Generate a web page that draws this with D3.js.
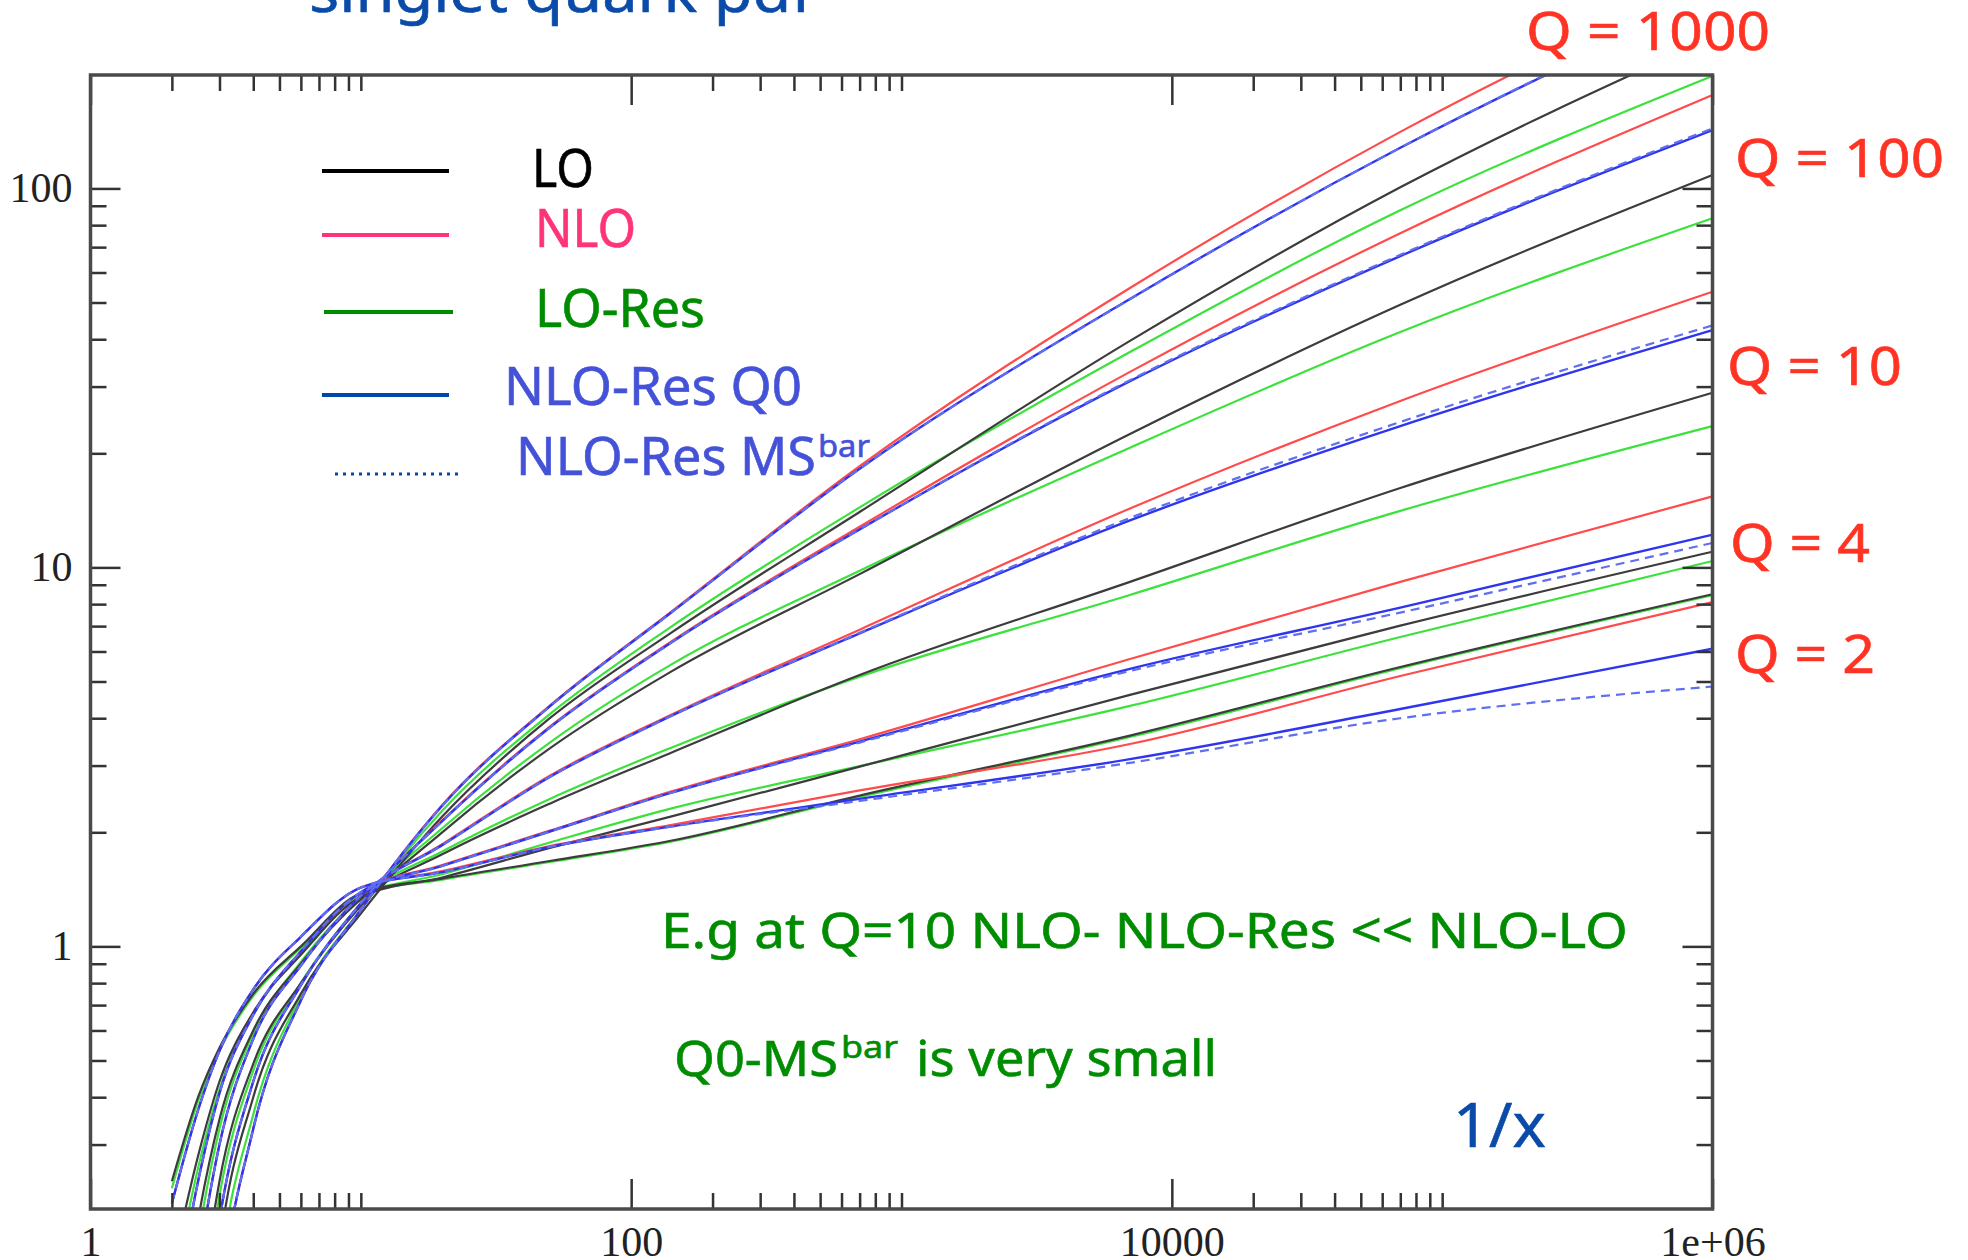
<!DOCTYPE html>
<html>
<head>
<meta charset="utf-8">
<script src="https://cdn.jsdelivr.net/npm/d3@7.9.0/dist/d3.min.js"></script>
<style>
  html, body { margin: 0; padding: 0; background: #fff; }
  svg { display: block; }
  .axis text { font-family: "Liberation Serif", "DejaVu Serif", serif; font-size: 42px; fill: #222; }
  .axis line { stroke: #333; stroke-width: 2.5; }
  .note { font-family: "Noto Sans", "Open Sans", sans-serif; paint-order: stroke; stroke-width: 0.6; }
</style>
</head>
<body>
<div id="chart"></div>
<script>
// 1/x sample points (same for every curve)
const xPoints = [2, 2.5, 3, 4, 6, 10, 20, 50, 140, 700, 7000, 70000, 1000000];
// one row per Q value
const qValues = [2, 4, 10, 100, 1000];

const loValues = [
  [0.24, 0.40, 0.54, 0.75, 1.0, 1.38, 1.51, 1.68, 1.90, 2.50, 3.60, 5.46, 8.5],
  [0.14, 0.28, 0.44, 0.67, 0.95, 1.35, 1.52, 1.82, 2.20, 2.98, 4.61, 7.02, 11.0],
  [0.065, 0.19, 0.35, 0.60, 0.90, 1.33, 1.75, 2.38, 3.24, 5.2, 9.16, 16.2, 28.9],
  [0.022, 0.10, 0.24, 0.49, 0.80, 1.28, 2.0, 3.33, 5.30, 9.6, 22.5, 49.3, 108.5],
  [0.008, 0.045, 0.16, 0.40, 0.75, 1.22, 2.2, 4.0, 6.71, 14.0, 39.6, 100.7, 250]
];
const nloValues = [
  [0.21, 0.37, 0.53, 0.77, 1.06, 1.43, 1.58, 1.84, 2.09, 2.58, 3.42, 5.17, 8.1],
  [0.10, 0.24, 0.41, 0.66, 0.97, 1.39, 1.64, 2.02, 2.56, 3.52, 5.73, 9.16, 15.4],
  [0.045, 0.145, 0.30, 0.57, 0.89, 1.36, 1.86, 2.82, 4.08, 6.85, 14.3, 27.5, 53.4],
  [0.013, 0.07, 0.19, 0.44, 0.79, 1.30, 2.15, 3.8, 6.36, 12.8, 32.8, 76.2, 176.5],
  [0.004, 0.025, 0.11, 0.33, 0.72, 1.25, 2.36, 4.32, 7.62, 18.5, 54.6, 141, 360]
];
const loResValues = [
  [0.23, 0.39, 0.53, 0.74, 0.99, 1.37, 1.50, 1.67, 1.89, 2.48, 3.57, 5.42, 8.45],
  [0.12, 0.26, 0.42, 0.66, 0.96, 1.36, 1.55, 1.88, 2.31, 2.99, 4.31, 6.55, 10.4],
  [0.055, 0.17, 0.33, 0.59, 0.91, 1.35, 1.78, 2.45, 3.34, 5.15, 8.46, 14.1, 23.6],
  [0.018, 0.088, 0.22, 0.47, 0.80, 1.30, 2.05, 3.45, 5.53, 9.8, 20.7, 41.8, 83.4],
  [0.006, 0.035, 0.135, 0.36, 0.74, 1.25, 2.28, 4.1, 6.96, 14.4, 37.0, 87.6, 198]
];
const nloResQ0Values = [
  [0.21, 0.37, 0.53, 0.77, 1.06, 1.43, 1.57, 1.83, 2.07, 2.45, 3.12, 4.23, 6.1],
  [0.10, 0.24, 0.41, 0.66, 0.97, 1.39, 1.63, 2.01, 2.54, 3.47, 5.40, 7.83, 12.2],
  [0.045, 0.145, 0.30, 0.57, 0.89, 1.36, 1.85, 2.8, 4.05, 6.7, 13.3, 23.6, 42.3],
  [0.013, 0.07, 0.19, 0.44, 0.79, 1.30, 2.14, 3.78, 6.32, 12.6, 31.0, 66.3, 142.6],
  [0.004, 0.025, 0.11, 0.33, 0.72, 1.25, 2.35, 4.3, 7.58, 18.2, 51.1, 128, 320]
];
const nloResMsValues = [
  [0.21, 0.37, 0.53, 0.77, 1.06, 1.43, 1.57, 1.83, 2.07, 2.42, 3.05, 4.0, 4.85],
  [0.10, 0.24, 0.41, 0.66, 0.97, 1.39, 1.63, 2.01, 2.54, 3.45, 5.33, 7.6, 11.6],
  [0.045, 0.145, 0.30, 0.57, 0.89, 1.36, 1.85, 2.8, 4.05, 6.72, 13.5, 24.2, 43.5],
  [0.013, 0.07, 0.19, 0.44, 0.79, 1.30, 2.14, 3.78, 6.32, 12.6, 31.2, 66.8, 144],
  [0.004, 0.025, 0.11, 0.33, 0.72, 1.25, 2.35, 4.3, 7.58, 18.2, 51.0, 128, 322]
];

const xMajorTicks = [1, 100, 10000, 1000000];
const xMinorTicks = [2, 3, 4, 5, 6, 7, 8, 9, 10, 200, 300, 400, 500, 600, 700, 800, 900, 1000,
  20000, 30000, 40000, 50000, 60000, 70000, 80000, 90000, 100000];
const yMajorTicks = [1, 10, 100];
const yMinorTicks = [0.3, 0.4, 0.5, 0.6, 0.7, 0.8, 0.9, 2, 3, 4, 5, 6, 7, 8, 9,
  20, 30, 40, 50, 60, 70, 80, 90];

const legendLabels = ["LO", "NLO", "LO-Res", "NLO-Res  Q0", "NLO-Res MS"];
const qLabels = ["Q = 2", "Q = 4", "Q = 10", "Q = 100", "Q = 1000"];

const width = 1968;
const height = 1260;
const plot = { left: 90.5, right: 1712.5, top: 75, bottom: 1209 };

const svg = d3.select('#chart')
  .append('svg')
  .attr('width', width)
  .attr('height', height)
  .attr('viewBox', `0 0 ${width} ${height}`);

const xScale = d3.scaleLog()
  .domain([1, 1e6])
  .range([plot.left, plot.right]);

const yScale = d3.scaleLog()
  .domain([0.2028, 199.2])
  .range([plot.bottom, plot.top]);

// clip for curves
svg.append('defs').append('clipPath')
  .attr('id', 'plot-clip')
  .append('rect')
  .attr('x', plot.left)
  .attr('y', plot.top)
  .attr('width', plot.right - plot.left)
  .attr('height', plot.bottom - plot.top);

function drawCurves() {
  const series = [
    { values: loResValues, color: '#3be23b', width: 2.2 },
    { values: loValues, color: '#3c3c3c', width: 2.2 },
    { values: nloValues, color: '#ff4b4b', width: 2.2 },
    { values: nloResQ0Values, color: '#2f35ee', width: 2.4 },
    { values: nloResMsValues, color: '#5f6ff0', width: 2.2, dash: '9 6' }
  ];

  const line = d3.line()
    .x(d => xScale(d[0]))
    .y(d => yScale(d[1]))
    .curve(d3.curveMonotoneX);

  const g = svg.append('g').attr('clip-path', 'url(#plot-clip)');

  series.forEach(s => {
    s.values.forEach((row, i) => {
      const pts = xPoints.map((xv, j) => [xv, row[j]]);
      g.append('path')
        .datum(pts)
        .attr('d', line)
        .attr('fill', 'none')
        .attr('stroke', s.color)
        .attr('stroke-width', s.width)
        .attr('stroke-dasharray', s.dash || null)
        .attr('class', 'q' + qValues[i]);
    });
  });
}

function drawAxes() {
  const fmtX = d => (d === 1000000 ? '1e+06' : String(d));

  // bottom
  svg.append('g')
    .attr('class', 'axis')
    .attr('transform', `translate(0, ${plot.bottom})`)
    .call(d3.axisBottom(xScale).tickValues(xMajorTicks).tickFormat(fmtX)
      .tickSizeInner(-30).tickSizeOuter(0).tickPadding(17));
  svg.append('g')
    .attr('class', 'axis')
    .attr('transform', `translate(0, ${plot.bottom})`)
    .call(d3.axisBottom(xScale).tickValues(xMinorTicks).tickFormat('')
      .tickSizeInner(-16).tickSizeOuter(0));

  // top
  svg.append('g')
    .attr('class', 'axis')
    .attr('transform', `translate(0, ${plot.top})`)
    .call(d3.axisTop(xScale).tickValues(xMajorTicks).tickFormat('')
      .tickSizeInner(-30).tickSizeOuter(0));
  svg.append('g')
    .attr('class', 'axis')
    .attr('transform', `translate(0, ${plot.top})`)
    .call(d3.axisTop(xScale).tickValues(xMinorTicks).tickFormat('')
      .tickSizeInner(-16).tickSizeOuter(0));

  // left
  svg.append('g')
    .attr('class', 'axis')
    .attr('transform', `translate(${plot.left}, 0)`)
    .call(d3.axisLeft(yScale).tickValues(yMajorTicks).tickFormat(d => String(d))
      .tickSizeInner(-30).tickSizeOuter(0).tickPadding(18));
  svg.append('g')
    .attr('class', 'axis')
    .attr('transform', `translate(${plot.left}, 0)`)
    .call(d3.axisLeft(yScale).tickValues(yMinorTicks).tickFormat('')
      .tickSizeInner(-16).tickSizeOuter(0));

  // right
  svg.append('g')
    .attr('class', 'axis')
    .attr('transform', `translate(${plot.right}, 0)`)
    .call(d3.axisRight(yScale).tickValues(yMajorTicks).tickFormat('')
      .tickSizeInner(-30).tickSizeOuter(0));
  svg.append('g')
    .attr('class', 'axis')
    .attr('transform', `translate(${plot.right}, 0)`)
    .call(d3.axisRight(yScale).tickValues(yMinorTicks).tickFormat('')
      .tickSizeInner(-16).tickSizeOuter(0));

  svg.selectAll('.axis .domain').remove();

  // frame
  svg.append('rect')
    .attr('x', plot.left)
    .attr('y', plot.top)
    .attr('width', plot.right - plot.left)
    .attr('height', plot.bottom - plot.top)
    .attr('fill', 'none')
    .attr('stroke', '#4a4a4a')
    .attr('stroke-width', 3.5);
}

function addText(str, x, y, size, color, len) {
  const t = svg.append('text')
    .attr('class', 'note')
    .attr('x', x)
    .attr('y', y)
    .attr('font-size', size)
    .attr('fill', color)
    .attr('stroke', color)
    .text(str);
  if (len) {
    t.attr('textLength', len).attr('lengthAdjust', 'spacingAndGlyphs');
  }
  return t;
}

function drawLegend() {
  const lineColors = ['#000000', '#ff3377', '#008c00', '#0047ab', '#0047ab'];
  const textColors = ['#000000', '#ff3377', '#008c00', '#4452d8', '#4452d8'];
  const lineY = [171, 235, 312, 395, 474];
  const lineX = [[322, 449], [322, 449], [324, 453], [322, 449], [335, 461]];
  const textX = [[532, 62], [535, 101], [535, 170], [504, 298], [516, 300]];
  const textY = [187, 247, 327, 405, 475];

  legendLabels.forEach((label, i) => {
    svg.append('line')
      .attr('x1', lineX[i][0])
      .attr('x2', lineX[i][1])
      .attr('y1', lineY[i])
      .attr('y2', lineY[i])
      .attr('stroke', lineColors[i])
      .attr('stroke-width', i === 4 ? 3 : 4)
      .attr('stroke-dasharray', i === 4 ? '3 5' : null);
    addText(label, textX[i][0], textY[i], 52, textColors[i], textX[i][1]);
  });
  addText('bar', 818, 457, 31, textColors[4], 52);
}

function drawNotes() {
  // title, cut by the top edge
  addText('singlet quark pdf', 309, 12, 58, '#0a4aa8', 504);

  const qPos = [[1735, 673, 140], [1730, 562, 140], [1727, 385, 175], [1735, 177, 209], [1526, 50, 244]];
  qLabels.forEach((label, i) => {
    addText(label, qPos[i][0], qPos[i][1], 52, '#ff3324', qPos[i][2]);
  });

  addText('E.g at Q=10 NLO- NLO-Res << NLO-LO', 661, 948, 50, '#008c00', 967);
  addText('Q0-MS', 674, 1076, 50, '#008c00', 164);
  addText('bar', 841, 1058, 31, '#008c00', 57);
  addText('is very small', 916, 1076, 50, '#008c00', 301);
  addText('1/x', 1453, 1147, 62, '#0a4aa8', 93);
}

drawCurves();
drawAxes();
drawLegend();
drawNotes();
</script>
</body>
</html>
